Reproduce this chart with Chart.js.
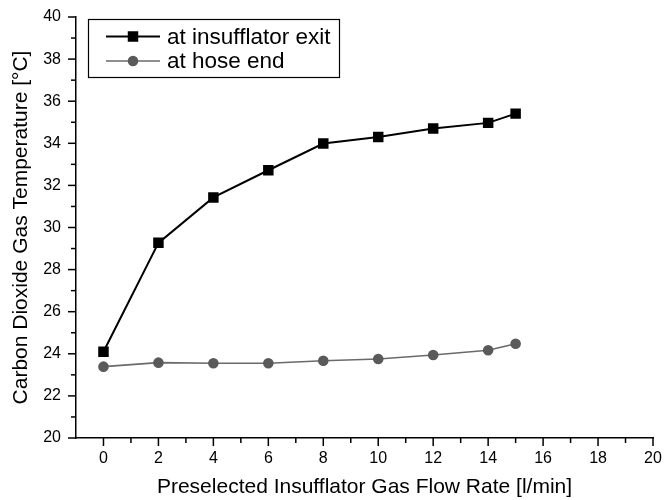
<!DOCTYPE html>
<html lang="en">
<head>
    <meta charset="UTF-8">
    <title>CO2 Gas Temperature vs Flow Rate</title>
    <script src="https://cdn.jsdelivr.net/npm/chart.js"></script>
    <style>
        body { margin: 0; background: #fff; }
        .wrap { width: 664px; height: 500px; position: relative; }
    </style>
</head>
<body>
    <div class="wrap">
        <canvas id="tempChart"></canvas>
    </div>

    <script>
        // Data
        const flowRates = [0, 2, 4, 6, 8, 10, 12, 14, 15];
        const tempExit = [24.1, 29.27, 31.43, 32.72, 33.99, 34.3, 34.7, 34.97, 35.41];
        const tempHose = [23.39, 23.58, 23.55, 23.55, 23.67, 23.75, 23.94, 24.17, 24.48];
        const seriesNames = ['at insufflator exit', 'at hose end'];

        const FONT = 'Liberation Sans, Arial, sans-serif';

        // Outward tick marks (major on even values, minor on odd)
        const tickMarks = {
            id: 'tickMarks',
            afterDraw(chart) {
                const ctx = chart.ctx;
                const area = chart.chartArea;
                ctx.save();
                ctx.strokeStyle = '#000';
                ctx.lineWidth = 1.5;
                const xs = chart.scales.x;
                xs.ticks.forEach(t => {
                    if (t.value <= xs.min) return;
                    const px = xs.getPixelForValue(t.value);
                    const len = t.value % 2 === 0 ? 8 : 5;
                    ctx.beginPath();
                    ctx.moveTo(px, area.bottom);
                    ctx.lineTo(px, area.bottom + len);
                    ctx.stroke();
                });
                const ys = chart.scales.y;
                ys.ticks.forEach(t => {
                    const py = ys.getPixelForValue(t.value);
                    const len = t.value % 2 === 0 ? 8 : 5;
                    ctx.beginPath();
                    ctx.moveTo(area.left, py);
                    ctx.lineTo(area.left - len, py);
                    ctx.stroke();
                });
                ctx.restore();
            }
        };

        // Boxed legend inside the plot, top left
        const boxLegend = {
            id: 'boxLegend',
            afterDraw(chart) {
                const ctx = chart.ctx;
                const bx = 88, by = 19, bw = 251, bh = 58;
                ctx.save();
                ctx.strokeStyle = '#000';
                ctx.lineWidth = 1.2;
                ctx.strokeRect(bx + 0.5, by + 0.5, bw, bh);
                chart.data.datasets.forEach((ds, i) => {
                    const cy = by + 17.5 + i * 24.5;
                    ctx.strokeStyle = ds.borderColor;
                    ctx.lineWidth = ds.borderWidth;
                    ctx.beginPath();
                    ctx.moveTo(106, cy);
                    ctx.lineTo(160, cy);
                    ctx.stroke();
                    ctx.fillStyle = ds.pointBackgroundColor;
                    ctx.strokeStyle = ds.pointBorderColor;
                    Chart.helpers.drawPoint(ctx, {
                        pointStyle: ds.pointStyle,
                        radius: ds.pointRadius,
                        borderWidth: 1,
                        rotation: 0
                    }, 133, cy);
                    ctx.fillStyle = '#000';
                    ctx.font = '22.5px ' + FONT;
                    ctx.textBaseline = 'middle';
                    ctx.textAlign = 'left';
                    ctx.fillText(ds.label, 167, cy + 1);
                });
                ctx.restore();
            }
        };

        const ctx = document.getElementById('tempChart').getContext('2d');

        new Chart(ctx, {
            type: 'line',
            data: {
                datasets: [
                    {
                        label: seriesNames[0],
                        data: flowRates.map((x, i) => ({ x: x, y: tempExit[i] })),
                        borderColor: '#000',
                        borderWidth: 2,
                        pointStyle: 'rect',
                        pointRadius: 6,
                        pointBackgroundColor: '#000',
                        pointBorderColor: '#000',
                        tension: 0
                    },
                    {
                        label: seriesNames[1],
                        data: flowRates.map((x, i) => ({ x: x, y: tempHose[i] })),
                        borderColor: '#6a6a6a',
                        borderWidth: 1.6,
                        pointStyle: 'circle',
                        pointRadius: 4.5,
                        pointBackgroundColor: '#5a5a5a',
                        pointBorderColor: '#5a5a5a',
                        tension: 0
                    }
                ]
            },
            options: {
                responsive: true,
                maintainAspectRatio: false,
                animation: false,
                events: [],
                layout: { padding: { top: 17, right: 11, left: 0, bottom: 0 } },
                plugins: {
                    legend: { display: false },
                    tooltip: { enabled: false }
                },
                scales: {
                    x: {
                        type: 'linear',
                        min: -1,
                        max: 20,
                        afterFit(scale) { scale.height = 62; },
                        // invisible tick marks only used to space the labels
                        grid: { display: true, drawOnChartArea: false, drawTicks: true, tickLength: 11, tickColor: 'rgba(0,0,0,0)' },
                        border: { display: true, color: '#000', width: 1.5 },
                        ticks: {
                            stepSize: 1,
                            autoSkip: false,
                            maxRotation: 0,
                            padding: 0,
                            color: '#000',
                            font: { family: FONT, size: 16 },
                            callback: v => (v >= 0 && v % 2 === 0) ? String(v) : ''
                        },
                        title: {
                            display: true,
                            text: 'Preselected Insufflator Gas Flow Rate [l/min]',
                            color: '#000',
                            font: { family: FONT, size: 21 },
                            padding: { top: 0, bottom: 0 }
                        }
                    },
                    y: {
                        min: 20,
                        max: 40,
                        afterFit(scale) { scale.width = 76; },
                        grid: { display: true, drawOnChartArea: false, drawTicks: true, tickLength: 15, tickColor: 'rgba(0,0,0,0)' },
                        border: { display: true, color: '#000', width: 1.5 },
                        ticks: {
                            stepSize: 1,
                            autoSkip: false,
                            padding: 0,
                            color: '#000',
                            font: { family: FONT, size: 16 },
                            callback: v => v % 2 === 0 ? String(v) : ''
                        },
                        title: {
                            display: true,
                            text: 'Carbon Dioxide Gas Temperature [°C]',
                            color: '#000',
                            font: { family: FONT, size: 21 },
                            padding: { top: 9, bottom: 0 }
                        }
                    }
                }
            },
            plugins: [tickMarks, boxLegend]
        });
    </script>
</body>
</html>
